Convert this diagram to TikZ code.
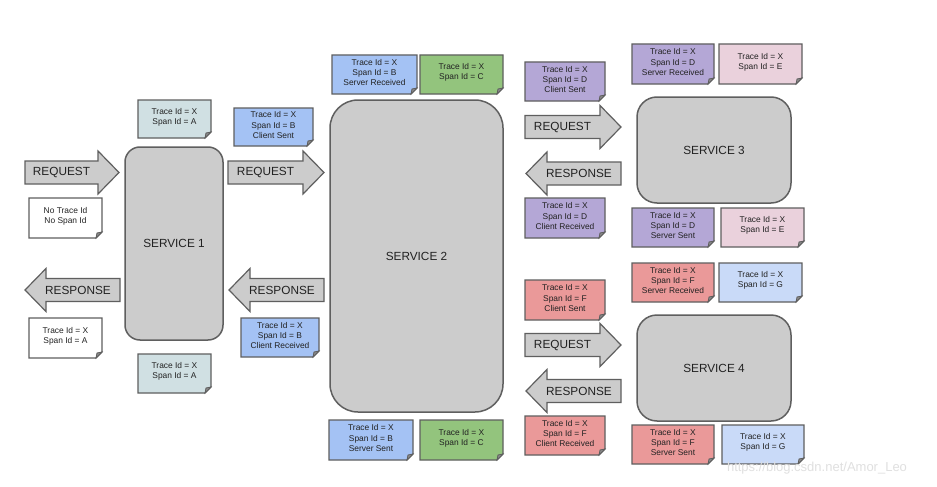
\documentclass[tikz,border=0pt]{standalone}
\usepackage{fontspec}
\setmainfont{Liberation Sans}
\definecolor{cA}{HTML}{D0E0E3}
\definecolor{cB}{HTML}{A4C2F4}
\definecolor{cC}{HTML}{93C47D}
\definecolor{cD}{HTML}{B4A7D6}
\definecolor{cE}{HTML}{EAD1DC}
\definecolor{cF}{HTML}{EA9999}
\definecolor{cG}{HTML}{C9DAF8}
\definecolor{bd}{HTML}{5F5F5F}
\definecolor{boxg}{HTML}{CCCCCC}
\definecolor{txt}{HTML}{222222}
\definecolor{foldc}{HTML}{8A8A8A}
\tikzset{
  notebd/.style={draw=bd, line width=1.2pt, line join=miter},
  notetext/.style={align=center, inner sep=0pt, text=txt, font=\fontsize{8.4}{10.3}\selectfont},
  arrbd/.style={draw=bd, fill=boxg, line width=1.2pt, line join=miter},
  arrtext/.style={inner sep=0pt, text=txt, font=\fontsize{11.8}{14}\selectfont},
  service/.style={draw=bd, fill=boxg, line width=1.5pt, text=txt, font=\fontsize{11.8}{14}\selectfont}
}
\newcommand{\mknote}[7]{%
  \filldraw[notebd, fill=#6] (#2,#3) -- (#4,#3) -- (#4,#5-6) -- (#4-6,#5) -- (#2,#5) -- cycle;
  \filldraw[notebd, fill=foldc, line width=0.8pt] (#4,#5-6) -- (#4-6,#5) -- (#4-5,#5-5) -- cycle;
  \node[notetext] (#1) at ({(#2+#4)/2},{(#3+#5)/2-2}) {#7};}
\newcommand{\rarr}[5]{%
  \filldraw[arrbd] (#2,#4-11.5) -- (#3-21,#4-11.5) -- (#3-21,#4-21.5) -- (#3,#4) -- (#3-21,#4+21.5) -- (#3-21,#4+11.5) -- (#2,#4+11.5) -- cycle;
  \node[arrtext] (#1) at ({(#2+#3-21)/2},#4) {#5};}
\newcommand{\larr}[5]{%
  \filldraw[arrbd] (#2,#4) -- (#2+21,#4-21.5) -- (#2+21,#4-11.5) -- (#3,#4-11.5) -- (#3,#4+11.5) -- (#2+21,#4+11.5) -- (#2+21,#4+21.5) -- cycle;
  \node[arrtext] (#1) at ({(#2+21+#3)/2-5},#4) {#5};}
\begin{document}
\begin{tikzpicture}[x=1pt,y=-1pt]
\fill[white] (0,0) rectangle (937,487);
\useasboundingbox (0,0) rectangle (937,487);

% services
\node[service, minimum width=98pt, minimum height=193pt, rounded corners=15pt] (s1) at (174,243.5) {SERVICE 1};
\node[service, minimum width=173pt, minimum height=312pt, rounded corners=28pt] (s2) at (416.5,256) {SERVICE 2};
\node[service, minimum width=154pt, minimum height=106pt, rounded corners=20pt] (s3) at (714,150) {SERVICE 3};
\node[service, minimum width=154pt, minimum height=106pt, rounded corners=20pt] (s4) at (714,368) {SERVICE 4};

% arrows
\rarr{req1}{25}{119}{172.5}{REQUEST}
\rarr{req2}{228}{324}{172.5}{REQUEST}
\larr{resp1}{25}{120}{290}{RESPONSE}
\larr{resp2}{229}{324}{290}{RESPONSE}
\rarr{req3}{525}{621}{127}{REQUEST}
\larr{resp3}{526}{621}{173.5}{RESPONSE}
\rarr{req4}{525}{621}{345}{REQUEST}
\larr{resp4}{526}{621}{391}{RESPONSE}

% notes
\mknote{nA1}{138}{100}{211}{138}{cA}{Trace Id = X\\Span Id = A}
\mknote{nB1}{234}{108}{313}{146}{cB}{Trace Id = X\\Span Id = B\\Client Sent}
\mknote{nNo}{29}{198}{102}{238}{white}{No Trace Id\\No Span Id}
\mknote{nA2}{29}{318}{102}{358}{white}{Trace Id = X\\Span Id = A}
\mknote{nA3}{138}{354}{211}{393}{cA}{Trace Id = X\\Span Id = A}
\mknote{nB2}{241}{318}{319}{357}{cB}{Trace Id = X\\Span Id = B\\Client Received}
\mknote{nB3}{332}{55}{417}{94}{cB}{Trace Id = X\\Span Id = B\\Server Received}
\mknote{nC1}{420}{55}{503}{94}{cC}{Trace Id = X\\Span Id = C}
\mknote{nB4}{329}{420}{413}{460}{cB}{Trace Id = X\\Span Id = B\\Server Sent}
\mknote{nC2}{420}{420}{503}{460}{cC}{Trace Id = X\\Span Id = C}
\mknote{nD1}{525}{62}{605}{101}{cD}{Trace Id = X\\Span Id = D\\Client Sent}
\mknote{nD2}{632}{44}{714}{84}{cD}{Trace Id = X\\Span Id = D\\Server Received}
\mknote{nE1}{719}{44}{802}{84}{cE}{Trace Id = X\\Span Id = E}
\mknote{nD3}{525}{198}{605}{238}{cD}{Trace Id = X\\Span Id = D\\Client Received}
\mknote{nD4}{632}{208}{714}{247}{cD}{Trace Id = X\\Span Id = D\\Server Sent}
\mknote{nE2}{721}{208}{804}{247}{cE}{Trace Id = X\\Span Id = E}
\mknote{nF1}{525}{280}{605}{320}{cF}{Trace Id = X\\Span Id = F\\Client Sent}
\mknote{nF2}{632}{263}{714}{302}{cF}{Trace Id = X\\Span Id = F\\Server Received}
\mknote{nG1}{719}{263}{802}{302}{cG}{Trace Id = X\\Span Id = G}
\mknote{nF3}{525}{416}{605}{455}{cF}{Trace Id = X\\Span Id = F\\Client Received}
\mknote{nF4}{632}{425}{714}{464}{cF}{Trace Id = X\\Span Id = F\\Server Sent}
\mknote{nG2}{722}{425}{804}{464}{cG}{Trace Id = X\\Span Id = G}

% watermark
\node[inner sep=0pt, text=black!12, font=\fontsize{13}{15}\selectfont] (wm) at (817,468) {https://blog.csdn.net/Amor\_Leo};
\end{tikzpicture}
\end{document}
